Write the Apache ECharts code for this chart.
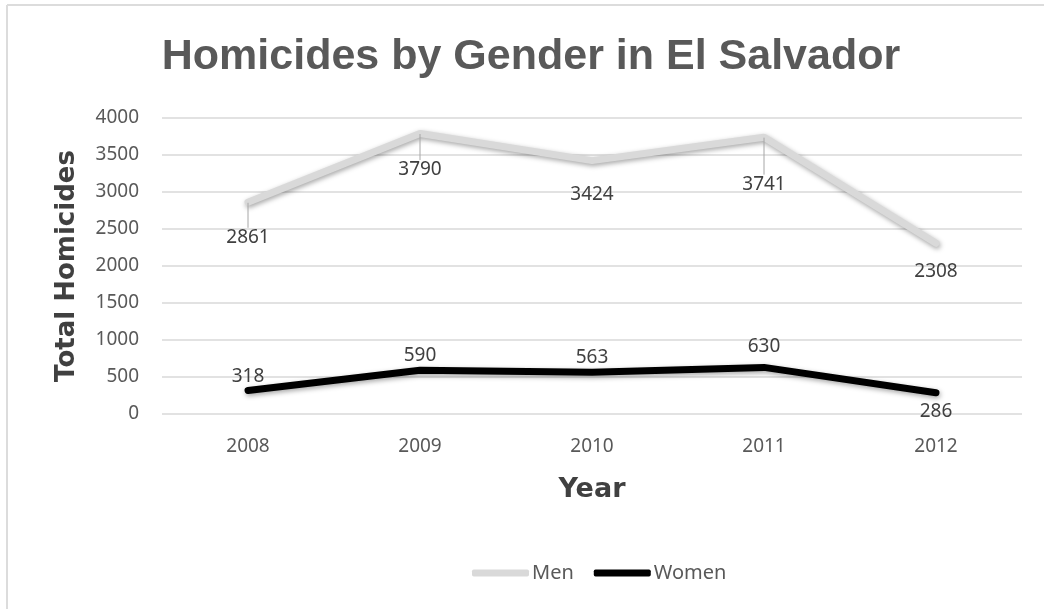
<!DOCTYPE html>
<html>
<head>
<meta charset="utf-8">
<script src="https://cdn.jsdelivr.net/npm/echarts@6/dist/echarts.min.js"></script>
<style>
  html, body { margin: 0; padding: 0; background: #fff; }
</style>
</head>
<body>
<div id="main" style="width: 1044px;height:609px;"></div>
<script>
var years = ['2008', '2009', '2010', '2011', '2012'];
var men = [2861, 3790, 3424, 3741, 2308];
var women = [318, 590, 563, 630, 286];
var yTicks = [0, 500, 1000, 1500, 2000, 2500, 3000, 3500, 4000];

// how far the men labels are pushed down, and which ones get a leader line
var menShift = [20, 21, 19, 32, 13];
var menLeader = [true, true, false, true, false];
var womenGap = [4, 5, 5, 11, 9];

var labelFont = { fontFamily: 'Noto Sans', fontSize: 19, color: '#404040' };

function menData() {
  return men.map(function (v, i) {
    return { value: v, labelLine: { show: menLeader[i] } };
  });
}
function womenData() {
  return women.map(function (v, i) {
    var pos = i === women.length - 1 ? 'bottom' : 'top';
    return { value: v, label: { position: pos, distance: womenGap[i] } };
  });
}

var myChart = echarts.init(document.getElementById('main'));
var option = {
  animation: false,
  backgroundColor: '#fff',
  title: {
    text: 'Homicides by Gender in El Salvador',
    left: 526,
    textAlign: 'center',
    top: 31,
    textStyle: {
      fontFamily: 'Liberation Sans',
      fontWeight: 'bold',
      fontSize: 43,
      color: '#595959'
    }
  },
  legend: {
    left: 472,
    top: 563,
    padding: 0,
    itemWidth: 57,
    itemHeight: 7,
    itemGap: 20,
    icon: 'roundRect',
    textStyle: { fontFamily: 'Noto Sans', fontSize: 20, color: '#595959', padding: [0, 0, 0, -2] },
    data: [
      { name: 'Men', itemStyle: { color: '#d9d9d9' } },
      { name: 'Women', itemStyle: { color: '#000' } }
    ]
  },
  graphic: [
    { type: 'line', shape: { x1: 7, y1: 5, x2: 1044, y2: 5 }, style: { stroke: '#dcdcdc', lineWidth: 2 } },
    { type: 'line', shape: { x1: 7, y1: 5, x2: 7, y2: 609 }, style: { stroke: '#dcdcdc', lineWidth: 2 } }
  ],
  grid: { left: 162, right: 22, top: 118, height: 296, containLabel: false },
  xAxis: {
    type: 'category',
    data: years,
    boundaryGap: true,
    name: 'Year',
    nameLocation: 'middle',
    nameGap: 62,
    nameTextStyle: { fontFamily: 'DejaVu Sans', fontWeight: 'bold', fontSize: 27, color: '#404040' },
    axisLine: { show: false },
    axisTick: { show: false },
    axisLabel: { margin: 23, fontFamily: 'Noto Sans', fontSize: 19, color: '#595959' }
  },
  yAxis: {
    type: 'value',
    min: 0,
    max: 4000,
    interval: 500,
    name: 'Total Homicides',
    nameLocation: 'middle',
    nameRotate: 90,
    nameGap: 82,
    nameTextStyle: { fontFamily: 'DejaVu Sans', fontWeight: 'bold', fontSize: 26, color: '#404040' },
    axisLabel: {
      margin: 23,
      fontFamily: 'Noto Sans',
      fontSize: 19,
      color: '#595959',
      formatter: function (v) { return yTicks.indexOf(v) >= 0 ? String(v) : ''; }
    },
    splitLine: { lineStyle: { color: '#d9d9d9', width: 1.5 } }
  },
  series: [
    {
      name: 'Men',
      type: 'line',
      data: menData(),
      showSymbol: true,
      symbol: 'circle',
      symbolSize: 1,
      itemStyle: { color: 'rgba(0,0,0,0)' },
      lineStyle: {
        width: 7,
        color: '#d9d9d9',
        cap: 'round',
        shadowColor: 'rgba(0,0,0,0.35)',
        shadowBlur: 5,
        shadowOffsetX: 1,
        shadowOffsetY: 2
      },
      label: Object.assign({ show: true, position: 'bottom', distance: 5 }, labelFont),
      labelLine: { show: true, lineStyle: { color: '#a6a6a6', width: 1 } },
      labelLayout: function (p) {
        return { dy: menShift[p.dataIndex] };
      }
    },
    {
      name: 'Women',
      type: 'line',
      data: womenData(),
      showSymbol: true,
      symbol: 'circle',
      symbolSize: 1,
      itemStyle: { color: 'rgba(0,0,0,0)' },
      lineStyle: {
        width: 7,
        color: '#000',
        cap: 'round',
        shadowColor: 'rgba(0,0,0,0.35)',
        shadowBlur: 5,
        shadowOffsetX: 1,
        shadowOffsetY: 2
      },
      label: Object.assign({ show: true }, labelFont)
    }
  ]
};
myChart.setOption(option);
</script>
</body>
</html>
